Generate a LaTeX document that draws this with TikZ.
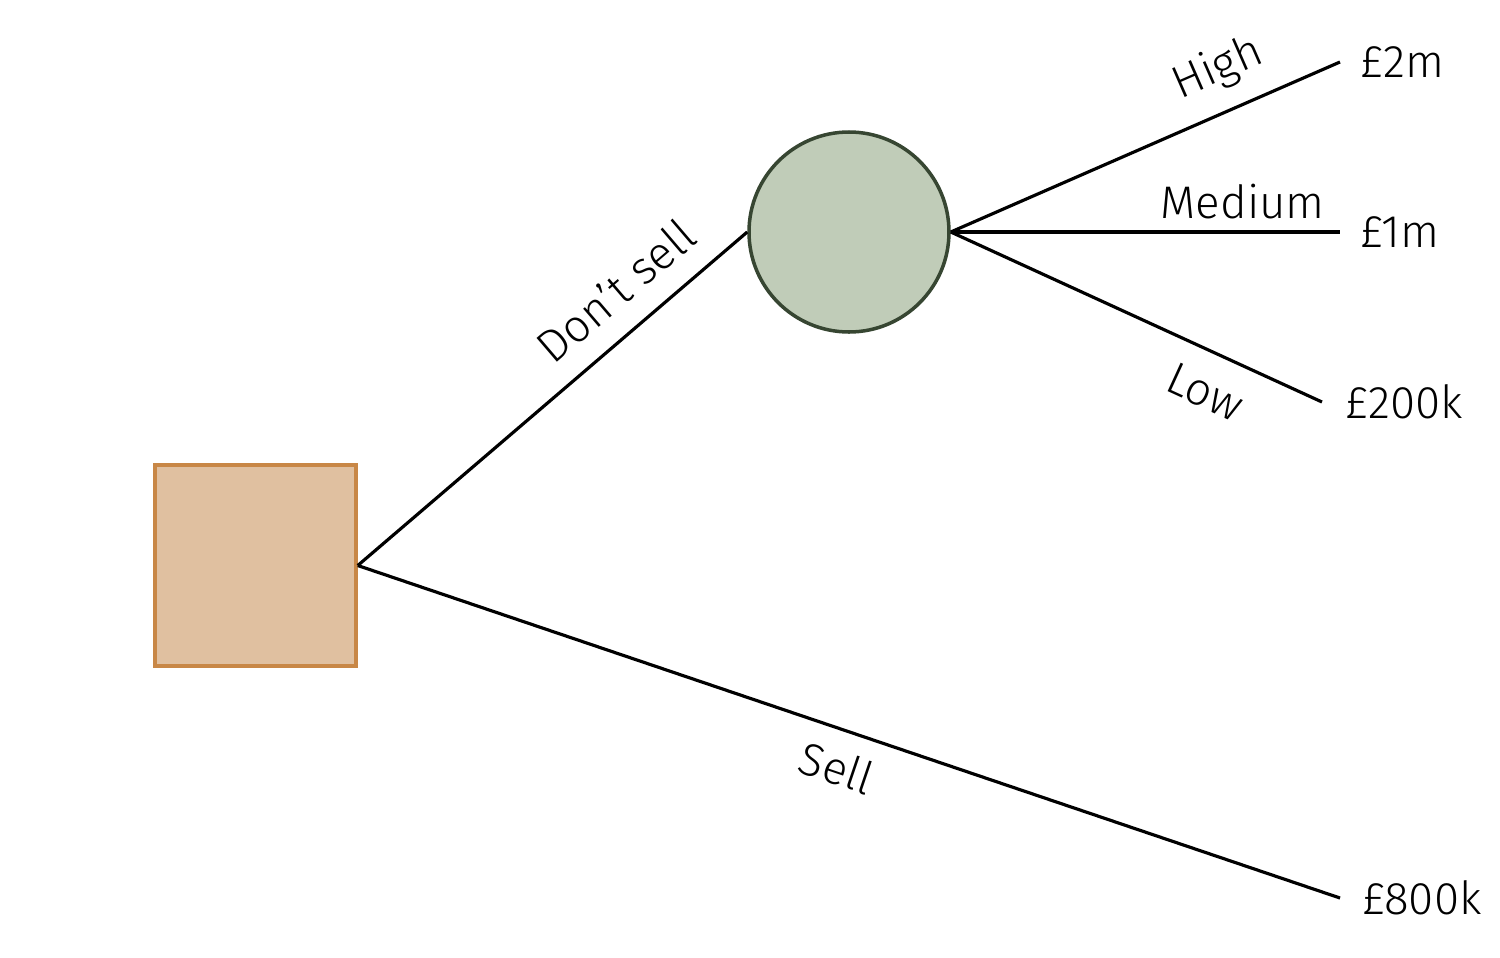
\documentclass[tikz,border=0pt]{standalone}
\usepackage{fontspec}
\setmainfont{Fira Sans}[UprightFont=* Light]
\definecolor{decfill}{RGB}{224,192,160}
\definecolor{decdraw}{RGB}{200,135,70}
\definecolor{chfill}{RGB}{192,204,184}
\definecolor{chdraw}{RGB}{55,70,50}
\usetikzlibrary{positioning}
\tikzset{
  decision/.style={draw=decdraw, fill=decfill, line width=1pt, minimum size=2.01cm, inner sep=0pt},
  chance/.style={circle, draw=chdraw, fill=chfill, line width=1pt, minimum size=2cm, inner sep=0pt},
  branch/.style={line width=0.9pt},
  payoff/.style={anchor=west, inner sep=0pt, outer sep=0pt},
  lbl/.style={font=\fontsize{13}{15}\selectfont, sloped}
}

\begin{document}
\begin{tikzpicture}
        \useasboundingbox (0,0) rectangle (15,9.57);
        \node[decision] (dec) at (2.555,3.915) {};
        \node[chance] (ch) at (8.49,7.25) {};
        % payoffs at the end of each branch
        \coordinate (hiend) at (13.40,8.95);
        \coordinate (meend) at (13.40,7.25);
        \coordinate (loend) at (13.22,5.55);
        \coordinate (seend) at (13.40,0.59);
        \node[payoff, lbl, right=0.2cm of hiend] (hi) {£2m};
        \node[payoff, lbl, right=0.2cm of meend] (me) {£1m};
        \node[payoff, lbl, right=0.23cm of loend] (lo) {£200k};
        \node[payoff, lbl, right=0.22cm of seend] (se) {£800k};
        \draw[branch] (dec.east) -- node[lbl, above=3pt, pos=0.73] {Don't sell} (ch.west);
        \draw[branch] (dec.east) -- node[lbl, below=2pt, pos=0.5] {Sell} (seend);
        \draw[branch] (ch.east) -- node[lbl, above=2pt, pos=0.73] {High} (hiend);
        \draw[branch] (ch.east) -- node[lbl, above, pos=0.75] {Medium} (meend);
        \draw[branch] (ch.east) -- node[lbl, below=3pt, pos=0.73] {Low} (loend);
\end{tikzpicture}
\end{document}
